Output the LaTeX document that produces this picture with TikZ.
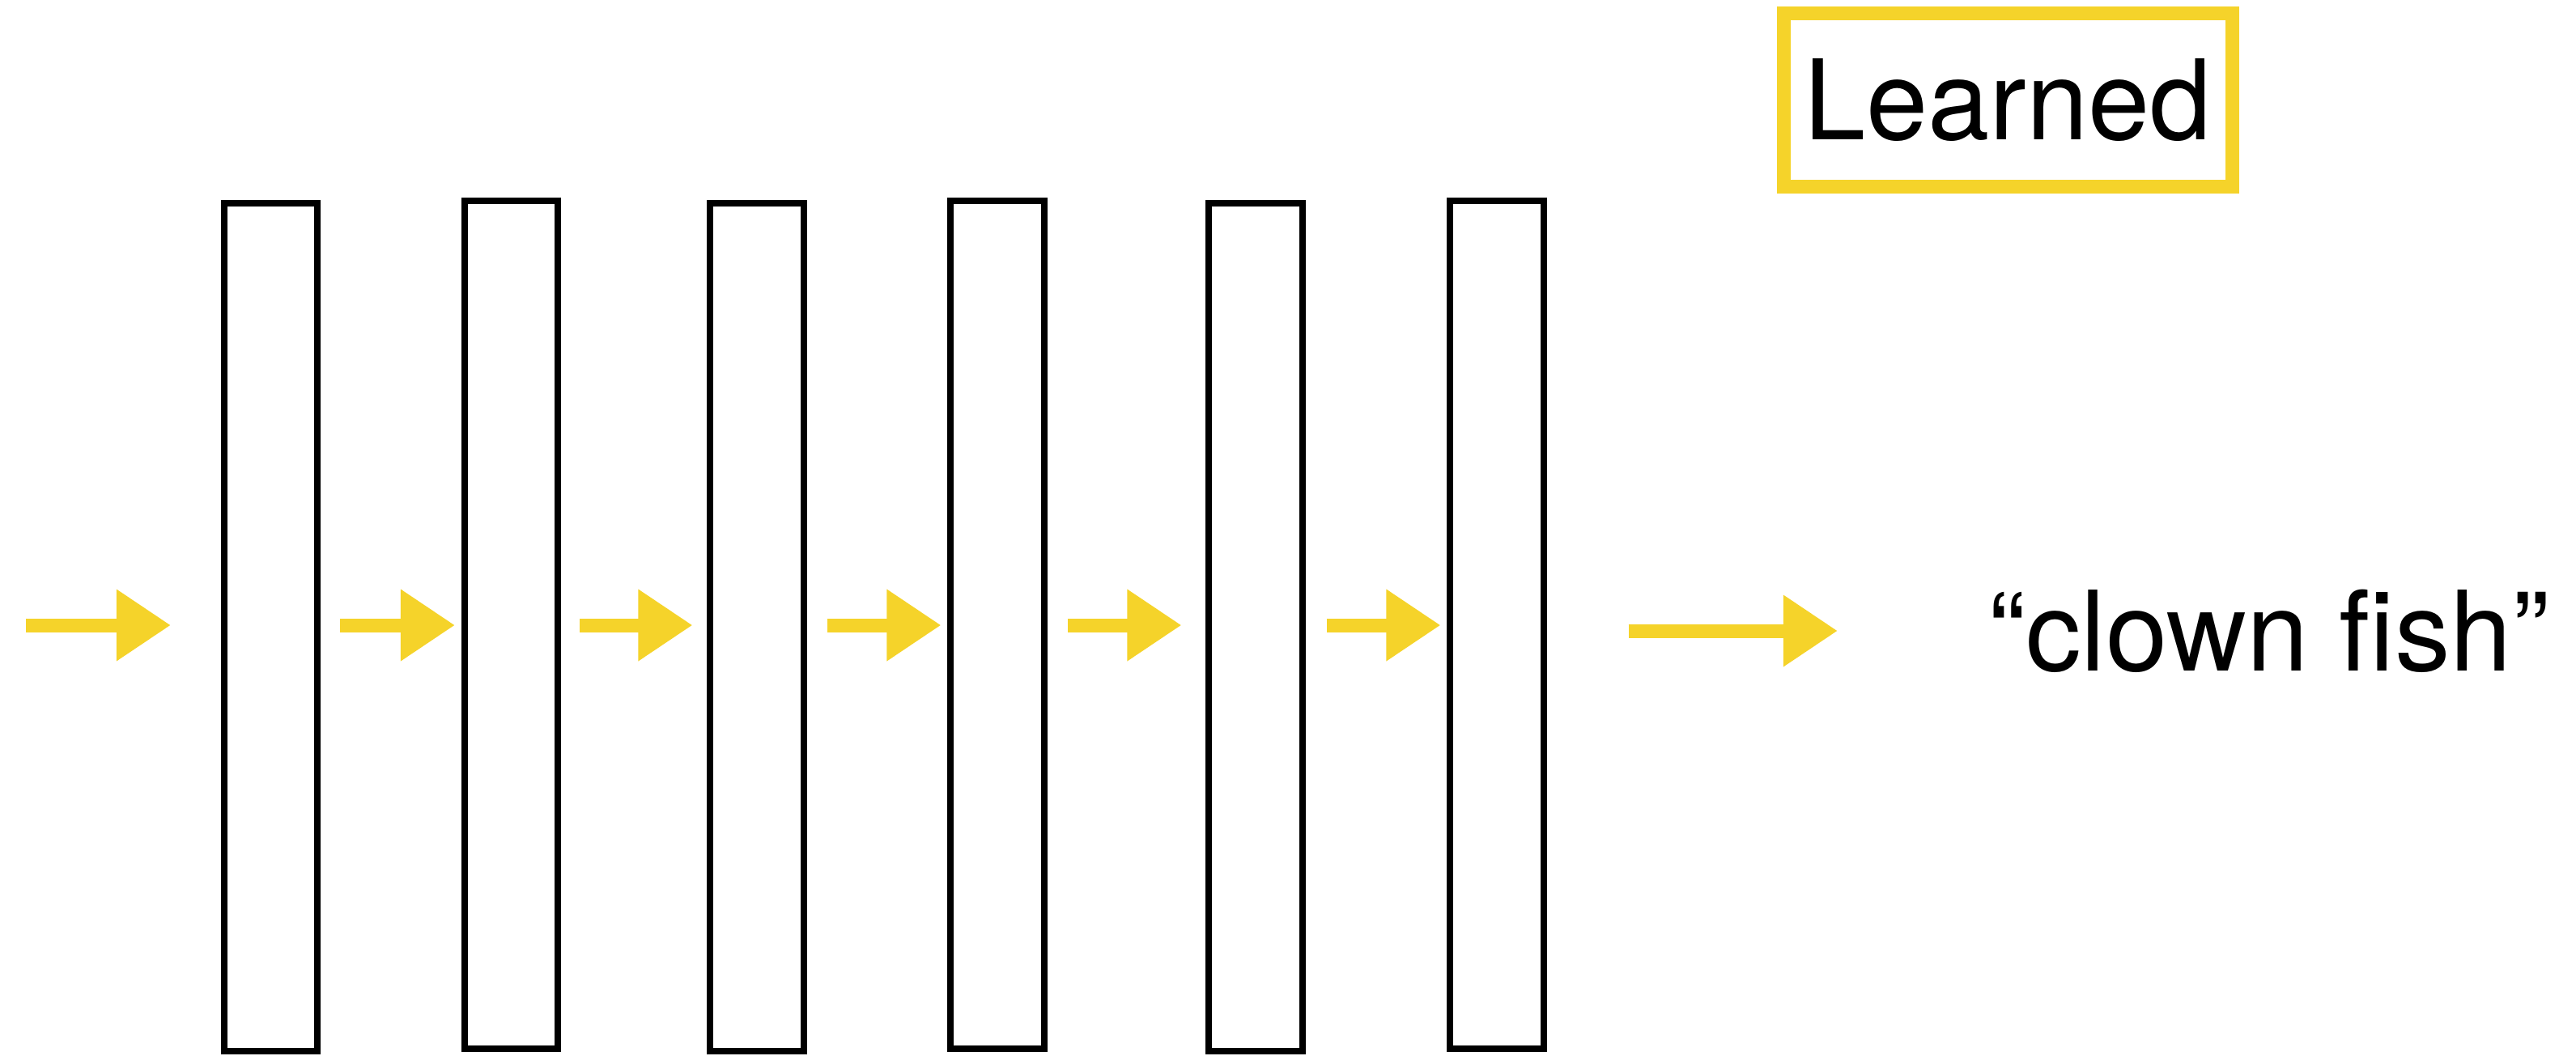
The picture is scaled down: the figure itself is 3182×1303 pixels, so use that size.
\documentclass[tikz,border=0pt]{standalone}
\usepackage{fontspec}
\setmainfont{TeX Gyre Heros}
\usetikzlibrary{arrows.meta}
\definecolor{chalk}{RGB}{245,211,42}
\begin{document}
\begin{tikzpicture}[x=0.01cm,y=-0.01cm,
  layer/.style={draw=black,line width=0.08cm,inner sep=0pt,minimum width=1.15cm,minimum height=10.47cm},
  arr/.style={draw=chalk,line width=0.17cm,-{Triangle[length=0.67cm,width=0.84cm]}},
  bigtext/.style={font=\fontsize{39}{41}\selectfont,inner sep=0pt}]
\useasboundingbox (0,0) rectangle (3182,1303);
% layers
\node[layer] (r1) at (334.5,774.5) {};
\node[layer] (r2) at (631.5,771.5) {};
\node[layer] (r3) at (935,774.5) {};
\node[layer] (r4) at (1232,771.5) {};
\node[layer] (r5) at (1551,774.5) {};
\node[layer] (r6) at (1849,771.5) {};
% label box
\node[bigtext,draw=chalk,line width=0.17cm,minimum width=5.53cm,minimum height=2.13cm] (learned) at (2480.5,123.5) {Learned};
% output text
\node[bigtext,anchor=base west] (fish) at (2456,828) {“clown fish”};
% arrow guides
\coordinate (in) at (32,772);
\coordinate (mid) at (0,772);
\coordinate (mid7) at (0,779);
\draw[arr,shorten >=0.62cm] (in) -- (r1.west |- mid);
\draw[arr,shorten <=0.24cm,shorten >=0.08cm] (r1.east |- mid) -- (r2.west |- mid);
\draw[arr,shorten <=0.23cm,shorten >=0.18cm] (r2.east |- mid) -- (r3.west |- mid);
\draw[arr,shorten <=0.25cm,shorten >=0.08cm] (r3.east |- mid) -- (r4.west |- mid);
\draw[arr,shorten <=0.25cm,shorten >=0.30cm] (r4.east |- mid) -- (r5.west |- mid);
\draw[arr,shorten <=0.26cm,shorten >=0.08cm] (r5.east |- mid) -- (r6.west |- mid);
\draw[arr,shorten <=1.01cm,shorten >=1.86cm] (r6.east |- mid7) -- (fish.west |- mid7);
\end{tikzpicture}
\end{document}
